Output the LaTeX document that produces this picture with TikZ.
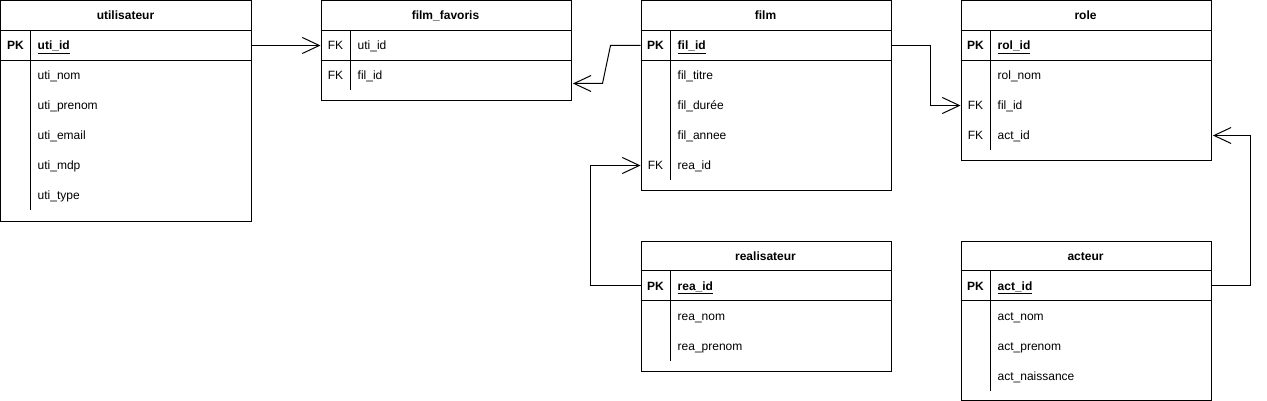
\documentclass[tikz,border=0pt]{standalone}
\usepackage{fontspec}
\setmainfont{Liberation Sans}
\usetikzlibrary{arrows.meta,calc}
\newcommand\etable[6]{% #1 id, #2 x0, #3 y0, #4 height, #5 title, #6 vline end
  \node[tbl, minimum height=#4pt] (#1) at (#2,#3) {};
  \node[ttl, anchor=base] (#1-t) at (#2+125,#3+19.5) {#5};
  \draw[sep] (#2,#3+30) -- (#2+250,#3+30);
  \draw[sep] (#2,#3+60) -- (#2+250,#3+60);
  \draw[sep] (#2+30,#3+30) -- (#2+30,#3+#6);}
\newcommand\erow[5]{% #1 id, #2 x0, #3 yc, #4 key, #5 attr
  \node[rowslot] (#1) at (#2,#3) {};
  \node[keyt, anchor=base] (#1-k) at (#2+15,#3+4.5) {#4};
  \node[attr] (#1-a) at (#2+37,#3+4.5) {#5};}
\begin{document}
\begin{tikzpicture}[x=1pt,y=-1pt,
  every node/.style={font=\fontsize{12}{14}\selectfont, text=black},
  tbl/.style={draw, line width=1pt, anchor=north west, minimum width=250pt, inner sep=0pt},
  sep/.style={line width=1pt},
  rowslot/.style={anchor=west, minimum width=250pt, minimum height=30pt, inner sep=0pt},
  ttl/.style={font=\fontsize{12}{14}\selectfont\bfseries, inner sep=0pt},
  keyt/.style={inner sep=0pt},
  attr/.style={anchor=base west, inner sep=0pt},
  rel/.style={line width=1pt, -{Straight Barb[length=17pt,width=16pt]}},
]
\useasboundingbox (-0.5,-0.5) rectangle (1266.5,400.5);
% utilisateur
\etable{utilisateur}{0}{0}{220}{utilisateur}{210}
\erow{uti-pk}{0}{45}{\textbf{PK}}{\textbf{\underline{uti\_id}}}
\erow{uti-nom}{0}{75}{}{uti\_nom}
\erow{uti-prenom}{0}{105}{}{uti\_prenom}
\erow{uti-email}{0}{135}{}{uti\_email}
\erow{uti-mdp}{0}{165}{}{uti\_mdp}
\erow{uti-type}{0}{195}{}{uti\_type}
% film_favoris
\etable{ff}{320}{0}{100}{film\_favoris}{90}
\erow{ff-uti}{320}{45}{FK}{uti\_id}
\erow{ff-fil}{320}{75}{FK}{fil\_id}
% film
\etable{film}{640}{0}{190}{film}{180}
\erow{film-pk}{640}{45}{\textbf{PK}}{\textbf{\underline{fil\_id}}}
\erow{film-titre}{640}{75}{}{fil\_titre}
\erow{film-duree}{640}{105}{}{fil\_durée}
\erow{film-annee}{640}{135}{}{fil\_annee}
\erow{film-rea}{640}{165}{FK}{rea\_id}
% role
\etable{role}{960}{0}{160}{role}{150}
\erow{role-pk}{960}{45}{\textbf{PK}}{\textbf{\underline{rol\_id}}}
\erow{role-nom}{960}{75}{}{rol\_nom}
\erow{role-fil}{960}{105}{FK}{fil\_id}
\erow{role-act}{960}{135}{FK}{act\_id}
% realisateur
\etable{rea}{640}{240}{130}{realisateur}{120}
\erow{rea-pk}{640}{285}{\textbf{PK}}{\textbf{\underline{rea\_id}}}
\erow{rea-nom}{640}{315}{}{rea\_nom}
\erow{rea-prenom}{640}{345}{}{rea\_prenom}
% acteur
\etable{act}{960}{240}{159.2}{acteur}{150}
\erow{act-pk}{960}{285}{\textbf{PK}}{\textbf{\underline{act\_id}}}
\erow{act-nom}{960}{315}{}{act\_nom}
\erow{act-prenom}{960}{345}{}{act\_prenom}
\erow{act-naiss}{960}{375}{}{act\_naissance}
% connectors
\draw[rel] (uti-pk.east) -- (ff-uti.west);
\draw[rel] (film-pk.west) -- ++(-30,0) -- ++(-8,38) -- ($(ff-fil.east)+(2,8)$);
\draw[rel] (film-pk.east) -- ++(40,0) |- (role-fil.west);
\draw[rel] (rea-pk.west) -- ++(-50,0) |- (film-rea.west);
\draw[rel] (act-pk.east) -- ++(40,0) |- ($(role-act.east)+(2,0)$);
\end{tikzpicture}
\end{document}
